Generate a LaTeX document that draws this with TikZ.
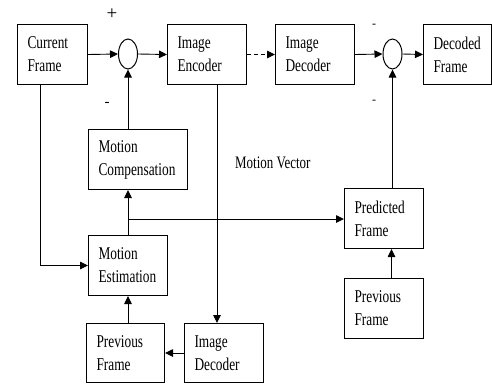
\documentclass[tikz,border=0pt]{standalone}
\usepackage{fontspec}
\setmainfont{Liberation Serif}
\newfontfamily\blockfont[FakeStretch=0.74]{Liberation Serif}
\usetikzlibrary{arrows.meta,calc,shapes.geometric}

\tikzset{
  blk/.style={draw=black, line width=1pt, anchor=north west, inner xsep=10pt,
    inner ysep=0pt, align=left, font=\blockfont\fontsize{18}{23}\selectfont},
  sumnode/.style={draw=black, line width=1pt, ellipse, minimum width=19pt,
    minimum height=30pt, inner sep=0pt},
  arr/.style={line width=0.9pt, -{Triangle[length=8pt,width=7.5pt]}},
  sign/.style={font=\fontsize{15}{15}\selectfont, inner sep=0pt},
}

\begin{document}
\begin{tikzpicture}[x=1pt,y=-1pt]
\useasboundingbox (0,0) rectangle (492,383);

% processing blocks
\node[blk, minimum width=70pt, minimum height=60pt, text width=50pt] (cur) at (17,24) {Current\\Frame};
\node[blk, minimum width=79pt, minimum height=60pt, text width=59pt] (enc) at (167,24) {Image\\Encoder};
\node[blk, minimum width=79pt, minimum height=60pt, text width=59pt] (dec) at (275,24) {Image\\Decoder};
\node[blk, minimum width=68pt, minimum height=60pt, text width=48pt] (out) at (423,24) {Decoded\\Frame};
\node[blk, minimum width=99pt, minimum height=60pt, text width=79pt] (mc) at (88,129) {Motion\\Compensation};
\node[blk, minimum width=79pt, minimum height=60pt, text width=59pt] (me) at (88,235) {Motion\\Estimation};
\node[blk, minimum width=79pt, minimum height=60pt, text width=59pt] (pred) at (344,188) {Predicted\\Frame};
\node[blk, minimum width=79pt, minimum height=60pt, text width=59pt] (prevr) at (344,278) {Previous\\Frame};
\node[blk, minimum width=78pt, minimum height=59pt, text width=58pt] (prevl) at (86,323) {Previous\\Frame};
\node[blk, minimum width=79pt, minimum height=59pt, text width=59pt] (idec) at (184,323) {Image\\Decoder};

% summing junctions
\node[sumnode] (s1) at (128,54) {};
\node[sumnode] (s2) at (392.5,54) {};

% signs
\node[sign, font=\fontsize{19}{19}\selectfont] (plus) at (112,14) {+};
\node[sign] (minus) at (107,104) {-};
\node[sign, font=\fontsize{12}{12}\selectfont] (tick1) at (374,26) {-};
\node[sign, font=\fontsize{12}{12}\selectfont] (tick2) at (374,102) {-};

% label
\node[font=\blockfont\fontsize{17.5}{20}\selectfont, anchor=base west, inner sep=0pt] (mv) at (235,168) {Motion Vector};

% forward path
\draw[arr] (cur.east) -- (s1.west);
\draw[arr] (s1.east) -- (enc.west);
\draw[arr, dashed, dash pattern=on 4pt off 3pt] (enc.east) -- (dec.west);
\draw[arr] (dec.east) -- (s2.west);
\draw[arr] (s2.east) -- (out.west);

% prediction loop
\draw[arr] (mc.north -| s1.south) -- (s1.south);
\draw[arr] (me.north -| s1.south) -- (mc.south -| s1.south);
\draw[arr] (prevl.north -| s1.south) -- (me.south -| s1.south);
\coordinate (tapcur) at ([xshift=23pt]cur.south west);
\draw[arr] (tapcur) |- (me.west);
\coordinate (br) at ($(me.north -| s1.south)+(0,-16)$);
\draw[arr] (br) -- (br -| pred.west);
\coordinate (tapenc) at ([xshift=50pt]enc.south west);
\draw[arr] (tapenc) -- (tapenc |- idec.north);
\draw[arr] (idec.west |- 0,353) -- (prevl.east |- 0,353);

% decoder side
\draw[arr] (s2.south |- pred.north) -- (s2.south);
\draw[arr] ([xshift=-1pt]s2.south |- prevr.north) -- ([xshift=-1pt]s2.south |- pred.south);
\end{tikzpicture}
\end{document}
